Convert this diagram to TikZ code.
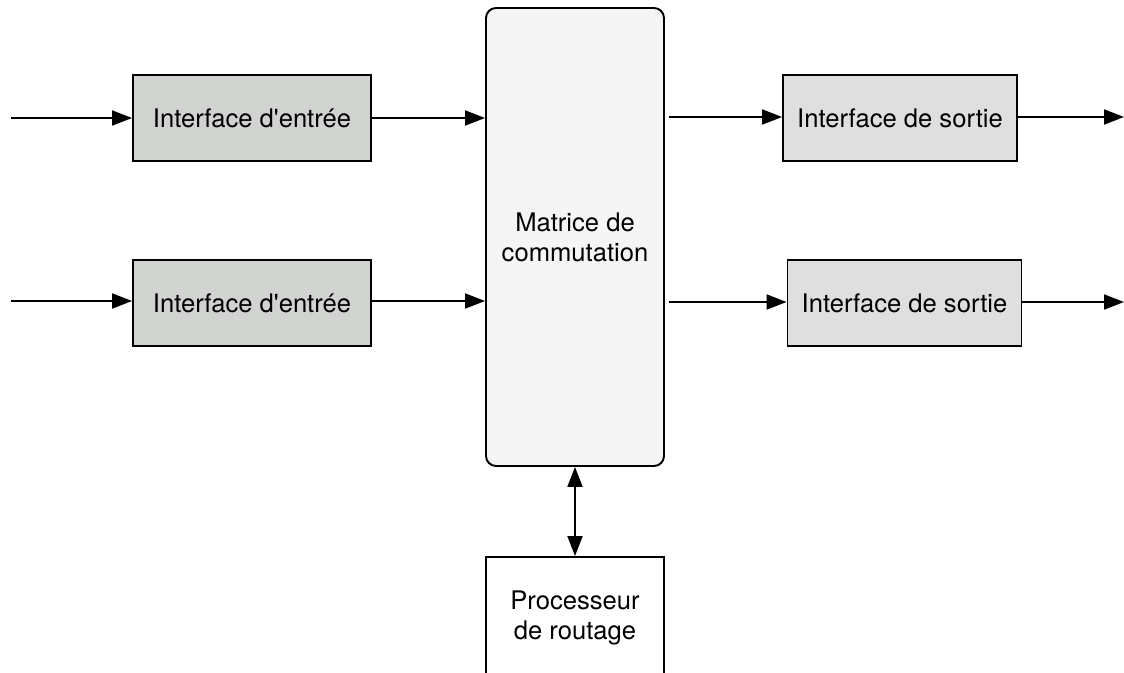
\documentclass[tikz,border=0pt]{standalone}
\usepackage{fontspec}
\setmainfont{TeX Gyre Heros}
\usetikzlibrary{arrows.meta}
\definecolor{infill}{HTML}{D1D3D1}
\definecolor{outfill}{HTML}{DFDFDF}
\definecolor{matfill}{HTML}{F5F5F5}
\begin{document}
\begin{tikzpicture}[x=1pt,y=-1pt,
  every node/.style={font=\fontsize{25.6}{30}\selectfont, align=center, inner sep=0pt},
  block/.style={draw=black, line width=1.9pt, minimum height=86pt},
  inbox/.style={block, fill=infill, minimum width=238pt},
  outbox/.style={block, fill=outfill, minimum width=234pt},
  link/.style={line width=1.9pt, -{Triangle[length=20pt,width=15pt]}},
  dlink/.style={line width=1.9pt, {Triangle[length=20pt,width=15pt]}-{Triangle[length=20pt,width=15pt]}}]
\useasboundingbox (0,0) rectangle (1124,672);
% switching fabric
\node[draw=black, line width=1.9pt, fill=matfill, rounded corners=10pt,
      minimum width=178pt, minimum height=458pt] (mat) at (575,237) {Matrice de\\commutation};
% input interfaces
\node[inbox] (in1) at (252,118) {Interface d\textquotesingle entrée};
\node[inbox] (in2) at (252,303) {Interface d\textquotesingle entrée};
% output interfaces
\node[outbox] (out1) at (900,118) {Interface de sortie};
\node[outbox] (out2) at (904.5,303) {Interface de sortie};
% routing processor
\node[draw=black, line width=1.9pt, fill=white, minimum width=178pt, minimum height=140pt,
      anchor=north] (proc) at (575,556) {};
\node at (575,618) {Processeur\\de routage};
% free ends
\coordinate (s1) at (11,118);
\coordinate (s2) at (11,301);
\coordinate (e1) at (1124,117);
\coordinate (e2) at (1124,302);
% connectors
\draw[link] (s1) -- (in1.west);
\draw[link] (s2) -- (s2 -| in2.west);
\draw[link] (in1.east) -- (in1.east -| mat.west);
\draw[link] (s2 -| in2.east) -- (s2 -| mat.west);
\draw[link] ([xshift=4pt]mat.east |- e1) -- (e1 -| out1.west);
\draw[link] ([xshift=4pt]mat.east |- e2) -- (e2 -| out2.west);
\draw[link] (e1 -| out1.east) -- (e1);
\draw[link] (e2 -| out2.east) -- (e2);
\draw[dlink] (mat.south) -- (proc.north);
\end{tikzpicture}
\end{document}
